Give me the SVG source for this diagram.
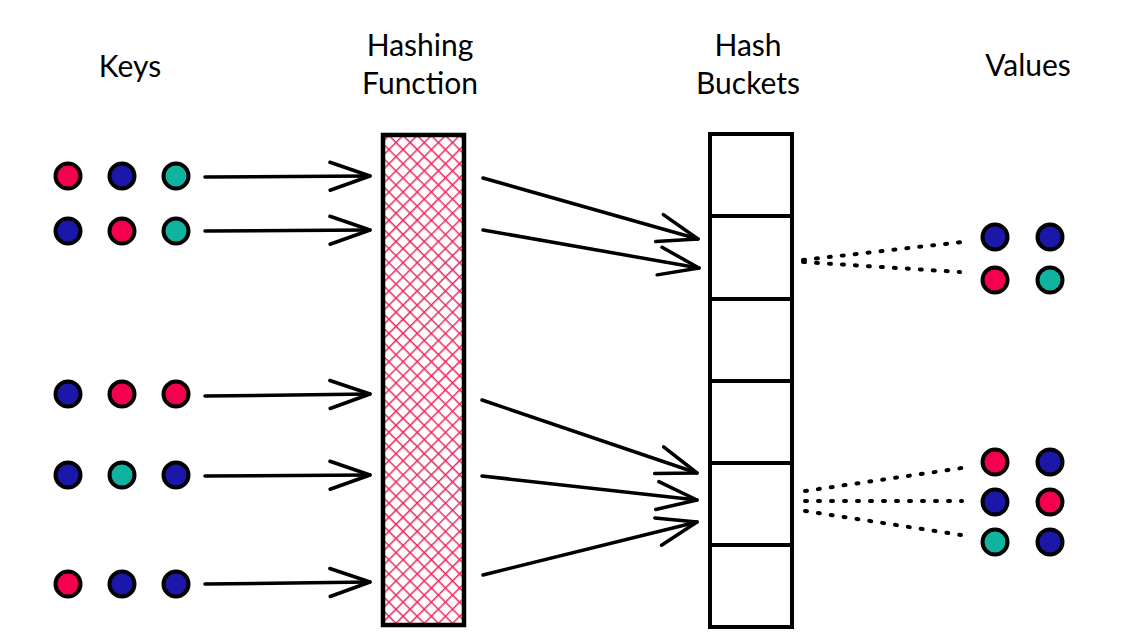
<svg xmlns="http://www.w3.org/2000/svg" width="1129" height="635" viewBox="0 0 1129 635">
<defs>
<pattern id="hatch" width="10" height="10" patternUnits="userSpaceOnUse" patternTransform="rotate(45)">
<line x1="0" y1="0" x2="0" y2="10" stroke="#ec2a63" stroke-width="3"/>
<line x1="0" y1="0" x2="10" y2="0" stroke="#ec2a63" stroke-width="3"/>
</pattern>
<marker id="chev" viewBox="-44 -17 48 34" markerWidth="48" markerHeight="34" refX="0" refY="0" orient="auto" markerUnits="userSpaceOnUse">
<path d="M-40,-14 L0,0 L-40,14" fill="none" stroke="#000" stroke-width="3.5" stroke-linecap="round" stroke-linejoin="round"/>
</marker>
</defs>
<style>
.lbl{font-family:"Lato","Open Sans","Liberation Sans",sans-serif;font-size:30px;fill:#000;text-anchor:middle}
.r{fill:#f4004f}.b{fill:#1b17a8}.t{fill:#0fb3a0}
.dot circle{stroke:#000;stroke-width:4}
.arr{fill:none;stroke:#000;stroke-width:3.5;stroke-linecap:round;marker-end:url(#chev)}
.dash{fill:none;stroke:#000;stroke-width:4;stroke-linecap:round;stroke-dasharray:2 11}
.box{fill:#fff;stroke:#000;stroke-width:4}
</style>
<rect width="1129" height="635" fill="#fff"/>
<g id="titles">
<text class="lbl" x="130" y="77">Keys</text>
<text class="lbl" x="420" y="56">Hashing</text>
<text class="lbl" x="420" y="94">Function</text>
<text class="lbl" x="748" y="56">Hash</text>
<text class="lbl" x="748" y="94">Buckets</text>
<text class="lbl" x="1028" y="76">Values</text>
</g>
<g id="keys" class="dot">
<circle class="r" cx="68" cy="176" r="12.5"/><circle class="b" cx="122" cy="176" r="12.5"/><circle class="t" cx="176" cy="176" r="12.5"/>
<circle class="b" cx="68" cy="231" r="12.5"/><circle class="r" cx="122" cy="231" r="12.5"/><circle class="t" cx="176" cy="231" r="12.5"/>
<circle class="b" cx="68" cy="394" r="12.5"/><circle class="r" cx="122" cy="394" r="12.5"/><circle class="r" cx="176" cy="394" r="12.5"/>
<circle class="b" cx="68" cy="475" r="12.5"/><circle class="t" cx="122" cy="475" r="12.5"/><circle class="b" cx="176" cy="475" r="12.5"/>
<circle class="r" cx="68" cy="584" r="12.5"/><circle class="b" cx="122" cy="584" r="12.5"/><circle class="b" cx="176" cy="584" r="12.5"/>
</g>
<g id="hash-function">
<rect x="383" y="135" width="81" height="490" fill="url(#hatch)" stroke="#000" stroke-width="4.5"/>
</g>
<g id="buckets">
<rect class="box" x="710" y="134" width="82" height="82"/>
<rect class="box" x="710" y="216" width="82" height="83"/>
<rect class="box" x="710" y="299" width="82" height="82"/>
<rect class="box" x="710" y="381" width="82" height="82"/>
<rect class="box" x="710" y="463" width="82" height="82"/>
<rect class="box" x="710" y="545" width="82" height="82"/>
</g>
<g id="values" class="dot">
<circle class="b" cx="995" cy="237" r="12.5"/><circle class="b" cx="1050" cy="237" r="12.5"/>
<circle class="r" cx="995" cy="280" r="12.5"/><circle class="t" cx="1050" cy="280" r="12.5"/>
<circle class="r" cx="995" cy="462" r="12.5"/><circle class="b" cx="1050" cy="462" r="12.5"/>
<circle class="b" cx="995" cy="502" r="12.5"/><circle class="r" cx="1050" cy="502" r="12.5"/>
<circle class="t" cx="995" cy="542" r="12.5"/><circle class="b" cx="1050" cy="542" r="12.5"/>
</g>
<g id="connectors">
<path class="arr" d="M205,177 L370,176"/>
<path class="arr" d="M205,231 L370,230"/>
<path class="arr" d="M205,396 L370,394"/>
<path class="arr" d="M205,476 L370,475"/>
<path class="arr" d="M205,584 L370,582"/>
<path class="arr" d="M483,178 L698,239"/>
<path class="arr" d="M483,230 L699,268"/>
<path class="arr" d="M482,400 L697,473"/>
<path class="arr" d="M482,476 L697,500"/>
<path class="arr" d="M483,575 L697,522"/>
<path class="dash" d="M803,260 L962,242"/>
<path class="dash" d="M803,262 L960,272"/>
<path class="dash" d="M805,491 L962,468"/>
<path class="dash" d="M805,501 L962,501"/>
<path class="dash" d="M805,511 L961,535"/>
</g>
</svg>
